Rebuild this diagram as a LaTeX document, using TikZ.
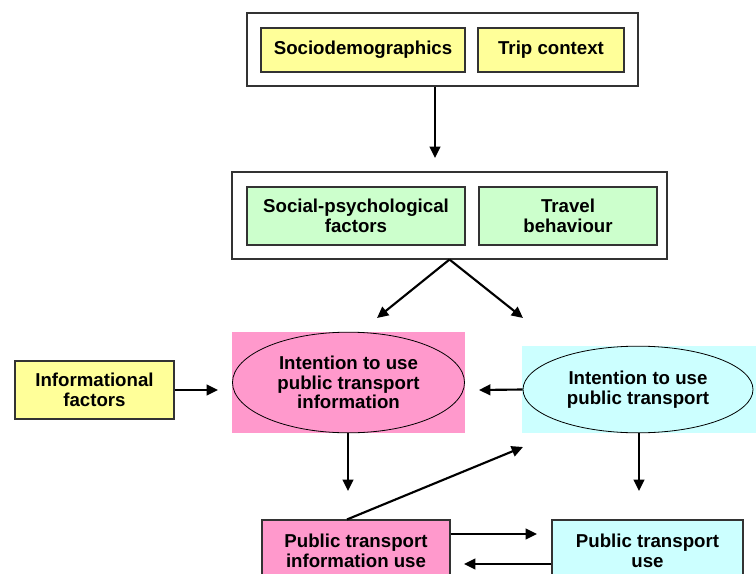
\documentclass[tikz,border=0pt]{standalone}
\usepackage{fontspec}
\setmainfont{Liberation Sans}
\usetikzlibrary{arrows.meta,shapes.geometric,calc}
\definecolor{cyel}{HTML}{FFFF99}
\definecolor{cgrn}{HTML}{CCFFCC}
\definecolor{cpnk}{HTML}{FF99CC}
\definecolor{ccyn}{HTML}{CCFFFF}
\definecolor{cedge}{HTML}{333333}
\tikzset{
  txt/.style={font=\fontsize{14}{14.8}\selectfont\bfseries, align=center, text=black},
  outerbox/.style={draw=cedge, line width=0.8pt, fill=white, inner sep=0pt},
  innerbox/.style={draw=cedge, line width=0.8pt, txt, inner sep=0pt},
  bgrect/.style={draw=none, inner sep=0pt},
  ell/.style={ellipse, draw=black, line width=0.6pt, txt, inner sep=0pt},
  arr/.style={line width=1.6pt, -{Triangle[length=8.5pt,width=8pt]}},
  ln/.style={line width=1.6pt}
}
\begin{document}
\begin{tikzpicture}[x=0.75pt,y=-0.75pt]
\useasboundingbox (0,0) rectangle (756,574);
\clip (0,0) rectangle (756,574);
% top group
\node[outerbox, minimum width=293.25pt, minimum height=54.75pt] (top) at (442.5,49.5) {};
\node[innerbox, fill=cyel, minimum width=153pt, minimum height=33pt] (socio) at (363,50) {Sociodemographics};
\node[innerbox, fill=cyel, minimum width=109.5pt, minimum height=33pt] (trip) at (551,50) {Trip context};
% second group
\node[outerbox, minimum width=326.25pt, minimum height=65.25pt] (second) at (449.5,215.5) {};
\node[innerbox, fill=cgrn, minimum width=163.5pt, minimum height=43.5pt] (social) at (356,216) {Social-psychological\\factors};
\node[innerbox, fill=cgrn, minimum width=133.5pt, minimum height=43.5pt] (travel) at (568,216) {Travel\\behaviour};
% intention pink
\node[bgrect, fill=cpnk, minimum width=174.75pt, minimum height=75.75pt] (pinkrect) at (348.5,382.5) {};
\node[ell, fill=cpnk, minimum width=174pt, minimum height=75.5pt] (pinkell) at (348.5,382.5) {Intention to use\\public transport\\information};
% intention cyan
\node[bgrect, fill=ccyn, minimum width=175.5pt, minimum height=65.25pt] (cyanrect) at (639,389.5) {};
\node[ell, fill=ccyn, minimum width=172.5pt, minimum height=65pt] (cyanell) at (638,389.5) {Intention to use\\public transport};
% informational factors
\node[innerbox, fill=cyel, minimum width=119.25pt, minimum height=43.5pt] (info) at (94.5,390) {Informational\\factors};
% bottom boxes
\node[innerbox, fill=cpnk, minimum width=141pt, minimum height=46.5pt] (bpink) at (356,551) {Public transport\\information use};
\node[innerbox, fill=ccyn, minimum width=143.25pt, minimum height=46.5pt] (bcyan) at (647.5,551) {Public transport\\use};
% coordinates for free arrow ends
\coordinate (a1) at (435,158);
\coordinate (t1) at (377,318);
\coordinate (t2) at (523,318);
\coordinate (t3) at (218,390);
\coordinate (t4) at (479,390);
\coordinate (t5) at (348,491);
\coordinate (t6) at (639,491);
\coordinate (t7) at (523,447);
\coordinate (t8) at (537,534);
\coordinate (t9) at (464,564);
% connectors
\draw[arr] (a1 |- top.south) -- (a1);
\draw[arr] (second.south) -- (t1);
\draw[arr] (second.south) -- (t2);
\draw[arr] (info.east) -- (t3);
\draw[arr] (cyanell.west) -- (t4);
\draw[arr] (t5 |- pinkrect.south) -- (t5);
\draw[arr] (t6 |- cyanrect.south) -- (t6);
\draw[arr] ([xshift=-6.75pt]bpink.north) -- (t7);
\draw[arr] (bpink.east |- t8) -- (t8);
\draw[arr] (bcyan.west |- t9) -- (t9);
\end{tikzpicture}
\end{document}
